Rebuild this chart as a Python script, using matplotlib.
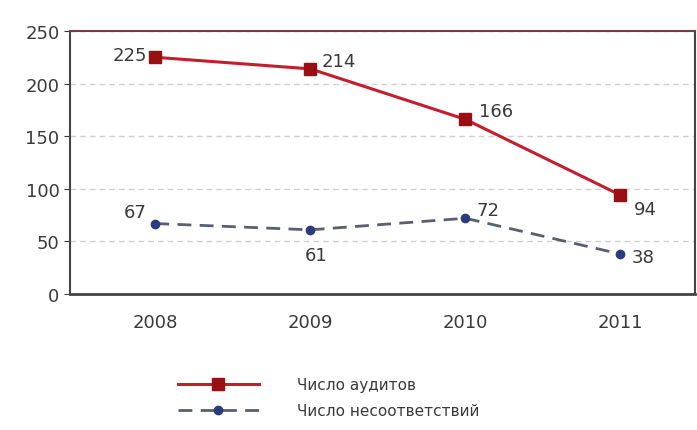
import numpy as np
import matplotlib
matplotlib.use("Agg")
import matplotlib.pyplot as plt
from matplotlib.lines import Line2D

years = ["2008", "2009", "2010", "2011"]
audits = [225, 214, 166, 94]
nonconf = [67, 61, 72, 38]
y_ticks = [0, 50, 100, 150, 200, 250]

# label offsets in points (dx, dy, ha)
audit_lbl = [(-6, 2, "right"), (8, 6, "left"), (10, 6, "left"), (10, -10, "left")]
nonc_lbl = [(-6, 8, "right"), (4, -18, "center"), (8, 6, "left"), (8, -2, "left")]

RED, RED_M = "#c41e2e", "#9a0f14"
BLUE_L, BLUE_M = "#5a5f6e", "#2c3b7e"
TXT = "#3a3a3a"

fig = plt.figure(figsize=(6.97, 4.31), dpi=100, facecolor="white")
ax = fig.add_axes([0.1004, 0.3155, 0.8966, 0.6103])
x = np.arange(len(years))

ax.plot(x, audits, color=RED, lw=2.2, marker="s", ms=8, mfc=RED_M, mec=RED_M,
        zorder=4, label="Число аудитов")
ax.plot(x, nonconf, color=BLUE_L, lw=2.0, ls=(0, (5, 3)), marker="o", ms=6,
        mfc=BLUE_M, mec=BLUE_M, zorder=4, label="Число несоответствий")

for xi, v, (dx, dy, ha) in zip(x, audits, audit_lbl):
    ax.annotate(str(v), (xi, v), xytext=(dx, dy), textcoords="offset points",
                ha=ha, va="center", fontsize=13, color=TXT)
for xi, v, (dx, dy, ha) in zip(x, nonconf, nonc_lbl):
    ax.annotate(str(v), (xi, v), xytext=(dx, dy), textcoords="offset points",
                ha=ha, va="center", fontsize=13, color=TXT)

ax.set_xlim(-0.55, 3.48)
ax.set_ylim(0, 250)
ax.set_yticks(y_ticks)
ax.set_xticks(x)
ax.set_xticklabels(years)
ax.tick_params(axis="both", labelsize=13, colors=TXT, length=4)
ax.tick_params(axis="x", length=0, pad=14)
ax.yaxis.grid(True, color="#cfcfcf", ls=(0, (4, 3)), lw=1)
ax.set_axisbelow(True)
for s in ax.spines.values():
    s.set_color("#444444"); s.set_linewidth(1.5)
ax.spines["top"].set_color("#7a3a44")
ax.spines["bottom"].set_linewidth(2)

handles = [Line2D([], [], color=RED, lw=2.2, marker="s", ms=8, mfc=RED_M, mec=RED_M),
           Line2D([], [], color=BLUE_L, lw=2.0, ls=(0, (5, 3)), marker="o", ms=6,
                  mfc=BLUE_M, mec=BLUE_M)]
fig.legend(handles, ["Число аудитов", "Число несоответствий"], loc="center left",
           bbox_to_anchor=(0.235, 0.075), frameon=False, fontsize=11,
           handlelength=5.3, handletextpad=2.5, labelspacing=0.75,
           labelcolor=TXT)

fig.savefig("out.png", dpi=100)
